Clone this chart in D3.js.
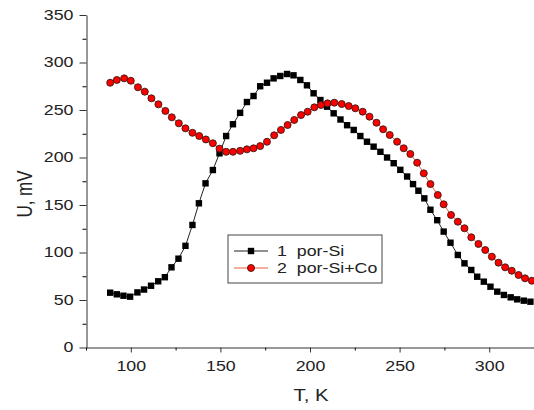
<!DOCTYPE html>
<html>
<head>
<meta charset="utf-8">
<script src="https://cdn.jsdelivr.net/npm/d3@7"></script>
<style>
  body { margin: 0; background: #fff; }
  text { font-family: "Liberation Sans", Arial, sans-serif; fill: #222; }
</style>
</head>
<body>
<div id="canvas"></div>
<script>
// series 1: por-Si (black squares)
const t1 = [88.5, 92.2, 95.9, 99.6, 103.7, 107.4, 111.3, 115.3, 119, 122.7, 126.6, 130.5, 134.4, 138, 141.7,
  145.8, 149.5, 153.2, 157, 161, 164.8, 168.5, 172.2, 176, 179.7, 183.4, 187.2, 190.8, 194.6, 198.3,
  202, 205.8, 209.5, 213.2, 217, 220.7, 224.4, 228.1, 231.8, 235.5, 239.3, 243, 246.7, 250.4, 254.2,
  257.5, 260.5, 263.8, 267.2, 271, 274.6, 278.4, 282.5, 286.2, 290, 293.3, 297, 300.7, 304.5, 308.2,
  312, 315.6, 319.3, 323];
const u1 = [57.7, 56, 54.5, 53.5, 58, 61, 65, 69.7, 74, 84.4, 93.5, 107, 129, 151.8, 172.8,
  186.8, 204.4, 222.6, 235, 247, 258.4, 264.7, 275, 278.7, 283.3, 285.8, 287.9, 286.5, 281.6, 276,
  267.6, 260.5, 253.5, 246.5, 240, 234, 229, 222.6, 216.6, 211.4, 206, 200, 194, 187, 180,
  172, 165, 157, 145, 134, 122, 110.3, 97.4, 88.6, 81.6, 74.5, 69.3, 64, 58.8, 55.3,
  52.8, 50.7, 49.3, 48.2];

// series 2: por-Si+Co (red circles)
const t2 = [88.5, 92.2, 96.3, 100, 104, 107.8, 111.5, 115.4, 119.3, 122.9, 126.8, 130.5, 134.4, 138.2, 141.9,
  145.8, 149.5, 153.2, 157, 161, 164.8, 168.5, 172.2, 176, 180, 183.8, 187.5, 191.2, 195, 198.7,
  202.4, 206.1, 209.8, 213.6, 217.7, 221.6, 225.3, 229.4, 233.2, 237.1, 240.8, 244.5, 248.6, 252.3, 256,
  259.8, 263.5, 267.2, 271.3, 274.6, 278.7, 282.5, 286.2, 290, 294, 297.8, 301.5, 305.2, 308.9,
  312.6, 316.4, 320, 323.8];
const u2 = [278.7, 281.6, 283.3, 280.8, 273.9, 269.3, 262.3, 256, 249, 242.3, 236, 230.7, 226, 222.6, 219,
  215, 209.3, 206, 206, 207, 208.6, 209.7, 212, 216.6, 223.4, 229, 234.2, 239.5, 244.7, 248.2,
  252.8, 255.3, 257, 257.7, 256.3, 254.2, 251.8, 248.2, 243, 236.6, 229.7, 223.7, 216.6, 209.7, 203.7,
  194.5, 183.3, 172, 160.5, 150.7, 139.5, 132.4, 125.5, 116, 109, 102.6, 95.6, 89.3, 84.4,
  80.8, 76.3, 72.8, 70.3];

const xTicks = [100, 150, 200, 250, 300];
const xMinor = [75, 125, 175, 225, 275, 325];
const yTicks = [0, 50, 100, 150, 200, 250, 300, 350];
const yMinor = [25, 75, 125, 175, 225, 275, 325];
const labels = ["1  por-Si", "2  por-Si+Co"];

const sx = 1.27; // the source picture is a little wider than tall, so text is stretched

const svg = d3.select("#canvas").append("svg")
            .attr("width", 534)
            .attr("height", 410);

const x = d3.scaleLinear().domain([75, 325]).range([86, 534]);
const y = d3.scaleLinear().domain([0, 350]).range([347.5, 15]);

const axisColor = "#333";

// stretch a text horizontally around its own x position
function stretch(sel) {
  sel.attr("transform", function() {
    const x0 = +(this.getAttribute("x") || 0);
    return `translate(${x0},0) scale(${sx},1) translate(${-x0},0)`;
  });
}

// minor ticks first, then the major axis on top
svg.append("g")
   .attr("transform", "translate(0,347.5)")
   .call(d3.axisBottom(x).tickValues(xMinor).tickSize(3).tickFormat(""))
   .call(g => g.select(".domain").remove());
svg.append("g")
   .attr("transform", "translate(86.5,0)")
   .call(d3.axisLeft(y).tickValues(yMinor).tickSize(4).tickFormat(""))
   .call(g => g.select(".domain").remove());

const xAxis = svg.append("g")
   .attr("transform", "translate(0,347.5)")
   .call(d3.axisBottom(x).tickValues(xTicks).tickSize(5).tickSizeOuter(0).tickPadding(9));
const yAxis = svg.append("g")
   .attr("transform", "translate(86.5,0)")
   .call(d3.axisLeft(y).tickValues(yTicks).tickSize(7).tickSizeOuter(0).tickPadding(6));

[xAxis, yAxis].forEach(g => {
  g.selectAll("path, line").attr("stroke", axisColor);
  g.selectAll("text").attr("font-size", 14).attr("fill", "#222")
   .attr("font-family", "Liberation Sans, Arial, sans-serif")
   .call(stretch);
});

svg.append("text")
   .attr("x", 311).attr("y", 401)
   .attr("text-anchor", "middle")
   .attr("font-size", 16)
   .call(stretch)
   .text("T, K");

svg.append("text")
   .attr("transform", `translate(32,194) scale(${sx},1) rotate(-90)`)
   .attr("text-anchor", "middle")
   .attr("font-size", 17)
   .text("U, mV");

const s1 = t1.map((t, i) => ({ t: t, u: u1[i] }));
const s2 = t2.map((t, i) => ({ t: t, u: u2[i] }));

const line = d3.line().x(d => x(d.t)).y(d => y(d.u));

svg.append("path").datum(s1)
   .attr("fill", "none").attr("stroke", "#222").attr("stroke-width", 1)
   .attr("d", line);
svg.append("path").datum(s2)
   .attr("fill", "none").attr("stroke", "#e5603c").attr("stroke-width", 1)
   .attr("d", line);

svg.append("g").selectAll("rect")
   .data(s1)
   .enter().append("rect")
   .attr("x", d => x(d.t) - 3.2)
   .attr("y", d => y(d.u) - 3.2)
   .attr("width", 6.4)
   .attr("height", 6.4)
   .attr("fill", "#000");

svg.append("g").selectAll("circle")
   .data(s2)
   .enter().append("circle")
   .attr("cx", d => x(d.t))
   .attr("cy", d => y(d.u))
   .attr("r", 3.5)
   .attr("fill", "#ff0000")
   .attr("stroke", "#3a1a14")
   .attr("stroke-width", 0.9);

// legend
const legend = svg.append("g");
legend.append("rect")
   .attr("x", 228).attr("y", 235)
   .attr("width", 154).attr("height", 48)
   .attr("fill", "#fff").attr("stroke", "#444").attr("stroke-width", 1);

const rows = [{ y: 251, color: "#222" }, { y: 268, color: "#e5603c" }];
rows.forEach((r, i) => {
  legend.append("line")
     .attr("x1", 234).attr("x2", 268)
     .attr("y1", r.y).attr("y2", r.y)
     .attr("stroke", r.color).attr("stroke-width", 1.2);
  if (i === 0) {
    legend.append("rect")
       .attr("x", 251 - 3.2).attr("y", r.y - 3.2)
       .attr("width", 6.4).attr("height", 6.4).attr("fill", "#000");
  } else {
    legend.append("circle")
       .attr("cx", 251).attr("cy", r.y).attr("r", 3.5)
       .attr("fill", "#ff0000").attr("stroke", "#3a1a14").attr("stroke-width", 0.9);
  }
  legend.append("text")
     .attr("x", 277).attr("y", r.y + 5.5)
     .attr("font-size", 14)
     .attr("xml:space", "preserve")
     .style("white-space", "pre")
     .call(stretch)
     .text(labels[i]);
});
</script>
</body>
</html>
